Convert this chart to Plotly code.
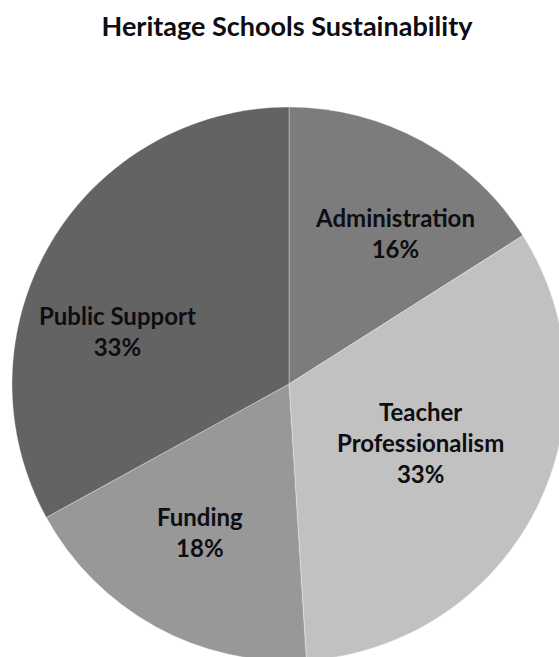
import plotly.graph_objects as go

labels = ["Administration", "Teacher<br>Professionalism", "Funding", "Public Support"]
values = [16, 33, 18, 33]
colors = ["#7c7c7c", "#c1c1c1", "#989898", "#636363"]

W, H = 578, 661
top = 107

# label anchor positions on the page (pixels from top-left)
label_pos = [(395, 233), (420, 442), (200, 532), (117, 331)]

total = sum(values)
fig = go.Figure(go.Pie(
    labels=labels,
    values=values,
    sort=False,
    direction="clockwise",
    rotation=0,
    marker=dict(colors=colors, line=dict(color="rgba(255,255,255,0.35)", width=1)),
    textinfo="none",
    hoverinfo="label+percent",
    domain=dict(x=[0, 1], y=[0, (H - top) / H]),
    showlegend=False,
))

for lab, val, (px, py) in zip(labels, values, label_pos):
    fig.add_annotation(
        x=px / W, y=1 - py / H, xref="paper", yref="paper",
        xanchor="center", yanchor="middle", align="center",
        text=f"<b>{lab}<br>{round(100 * val / total)}%</b>",
        showarrow=False,
        font=dict(family="Lato", size=24, color="#0d0d12"),
    )

fig.update_layout(
    width=W, height=H,
    margin=dict(l=0, r=0, t=0, b=0),
    paper_bgcolor="white",
    title=dict(text="<b>Heritage Schools Sustainability</b>", x=287 / W, xanchor="center",
               y=1 - 27 / H, yanchor="middle",
               font=dict(family="Lato", size=27, color="#0d0d12")),
)

fig.write_html("out.html", post_script="document.documentElement.style.overflow='hidden';document.body.style.overflow='hidden';")
